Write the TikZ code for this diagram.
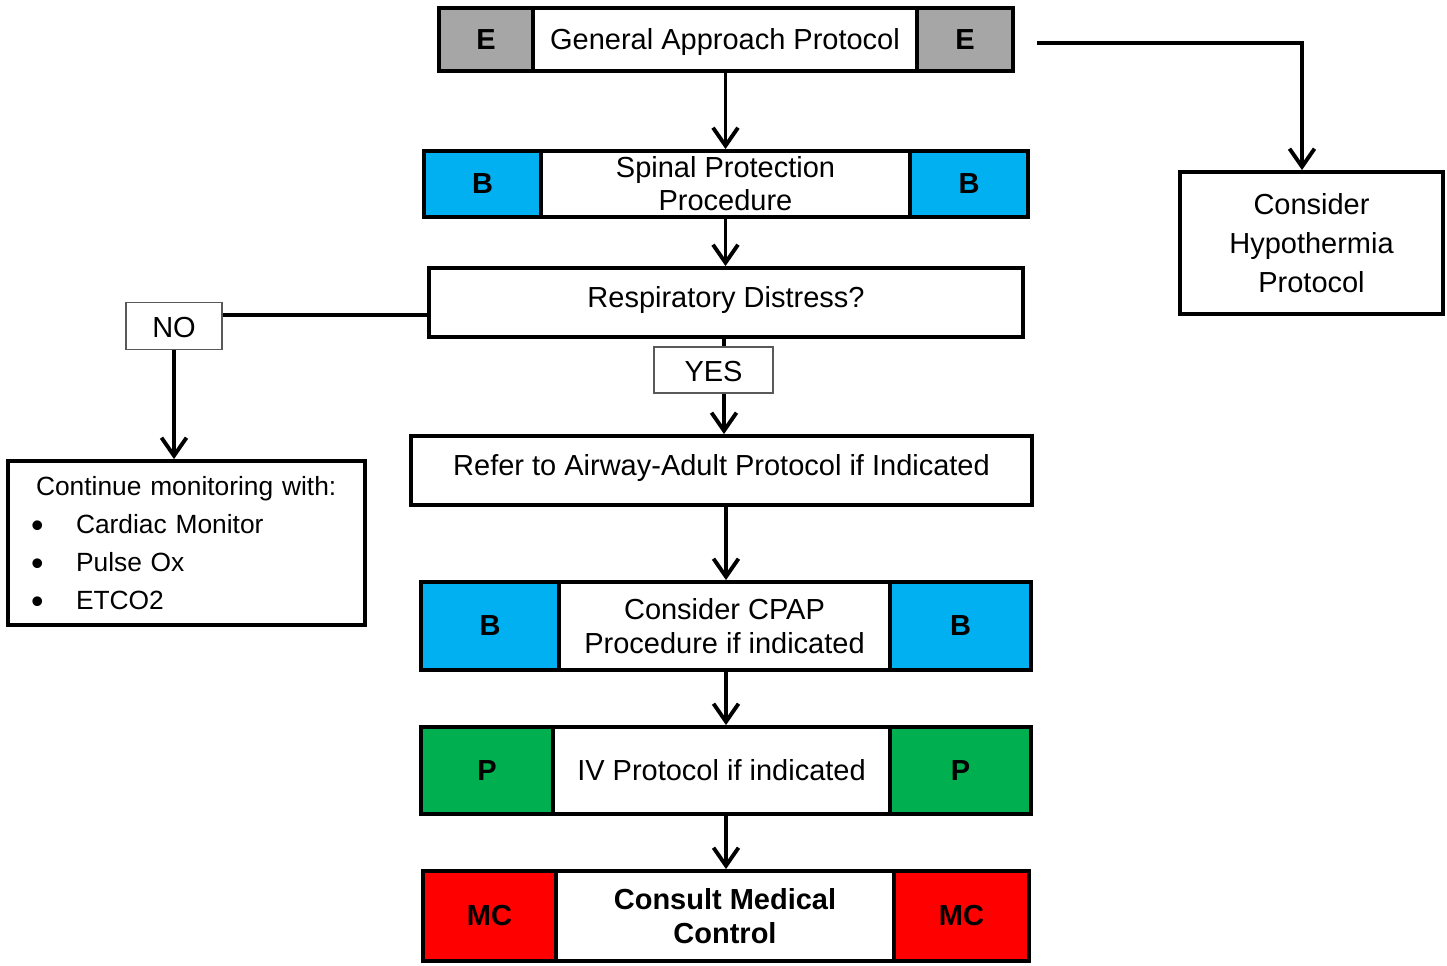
\documentclass[tikz,border=0pt]{standalone}
\usepackage{fontspec}
\setmainfont{Liberation Sans}
\usetikzlibrary{arrows.meta}
\definecolor{cgrey}{HTML}{A6A6A6}
\definecolor{cblue}{HTML}{00B0F0}
\definecolor{cgreen}{HTML}{00B050}
\definecolor{cred}{HTML}{FF0000}
\newcommand\shiftby[2]{\raisebox{#1}[\height][\depth]{#2}}
\newcommand\bigbul{\makebox[0.9cm][l]{\raisebox{-0.08cm}[0pt][0pt]{\scalebox{1.35}{\textbullet}}}}
\begin{document}
\begin{tikzpicture}[x=0.02cm,y=-0.02cm,
  sz/.style 2 args={minimum width=#1*0.02cm, minimum height=#2*0.02cm},
  cell/.style={draw=black, line width=2.2pt, inner sep=0pt, align=center,
    font=\fontsize{16.5}{19}\selectfont},
  lbl/.style={cell, font=\fontsize{16.5}{19}\selectfont\bfseries},
  tag/.style={draw=black!65, line width=0.8pt, fill=white, inner sep=0pt,
    font=\fontsize{16.5}{19}\selectfont},
  con/.style={line width=2.2pt},
  arr/.style={line width=2.2pt, -{Straight Barb[length=0.36cm,width=0.5cm]}}]
\useasboundingbox (0,0) rectangle (1447,965);

% Row E
\node[lbl, fill=cgrey, sz={94}{63}] (eL) at (486,39.5) {E};
\node[cell, fill=white, sz={384}{63}] (eM) at (725,39.5) {\shiftby{-0.05cm}{General Approach Protocol}};
\node[lbl, fill=cgrey, sz={96}{63}] (eR) at (965,39.5) {E};

% Row spinal
\node[lbl, fill=cblue, sz={117}{66}] (sL) at (482.5,184) {B};
\node[cell, fill=white, sz={369}{66}, font=\fontsize{16.5}{18.7}\selectfont] (sM) at (725.5,184) {Spinal Protection\\Procedure};
\node[lbl, fill=cblue, sz={118}{66}] (sR) at (969,184) {B};

% Respiratory distress
\node[cell, sz={594}{69}] (resp) at (726,302.5) {\shiftby{0.05cm}{Respiratory Distress?}};

% NO / YES
\node[tag, sz={96}{47}] (no) at (174,326) {\shiftby{-0.04cm}{NO}};
\node[tag, sz={119}{46}] (yes) at (713.5,370) {\shiftby{-0.03cm}{YES}};

% Continue monitoring
\node[cell, sz={357}{164}, align=left, text width=6.22cm,
  font=\fontsize{15}{21.6}\selectfont] (cont) at (186.5,543)
  {\hspace*{0.1cm}Continue monitoring with:\\
   \bigbul Cardiac Monitor\\
   \bigbul Pulse Ox\\
   \bigbul ETCO2};

% Refer
\node[cell, sz={621}{69}] (refer) at (721.5,470.5) {\shiftby{0.05cm}{Refer to Airway-Adult Protocol if Indicated}};

% CPAP
\node[lbl, fill=cblue, sz={138}{88}] (cL) at (490,626) {B};
\node[cell, fill=white, sz={331}{88}, font=\fontsize{16.5}{19.3}\selectfont] (cM) at (724.5,626) {Consider CPAP\\Procedure if indicated};
\node[lbl, fill=cblue, sz={141}{88}] (cR) at (960.5,626) {B};

% IV
\node[lbl, fill=cgreen, sz={132}{87}] (iL) at (487,770.5) {P};
\node[cell, fill=white, sz={337}{87}] (iM) at (721.5,770.5) {IV Protocol if indicated};
\node[lbl, fill=cgreen, sz={141}{87}] (iR) at (960.5,770.5) {P};

% MC
\node[lbl, fill=cred, sz={133}{90}] (mL) at (489.5,916) {MC};
\node[lbl, fill=white, sz={338}{90}, font=\fontsize{16.5}{19.3}\selectfont\bfseries] (mM) at (725,916) {Consult Medical\\Control};
\node[lbl, fill=cred, sz={135}{90}] (mR) at (961.5,916) {MC};

% Hypothermia
\node[cell, sz={263}{142}, font=\fontsize{16.5}{22}\selectfont] (hypo) at (1311.5,243) {Consider\\Hypothermia\\Protocol};

% Connectors
\draw[arr] (eM.south -| sM.north) -- (sM.north);
\draw[arr] (sM.south) -- (sM.south |- resp.north);
\draw[con] ([yshift=-0.25cm]resp.west) -- ([yshift=-0.25cm]resp.west -| no.east);
\draw[arr] (no.south) -- (no.south |- cont.north);
\draw[con] ([xshift=-0.04cm]resp.south) -- ([xshift=-0.04cm]resp.south |- yes.north);
\draw[arr] ([xshift=-0.04cm]resp.south |- yes.south) -- ([xshift=-0.04cm]resp.south |- refer.north);
\draw[arr] ([xshift=0.09cm]refer.south) -- ([xshift=0.09cm]refer.south |- cM.north);
\draw[arr] ([xshift=0.03cm]cM.south) -- ([xshift=0.03cm]cM.south |- iM.north);
\draw[arr] ([xshift=0.03cm]cM.south |- iM.south) -- ([xshift=0.03cm]cM.south |- mM.north);
\draw[arr] ([xshift=0.44cm,yshift=-0.07cm]eR.east) -| ([xshift=-0.19cm]hypo.north);
\end{tikzpicture}
\end{document}
